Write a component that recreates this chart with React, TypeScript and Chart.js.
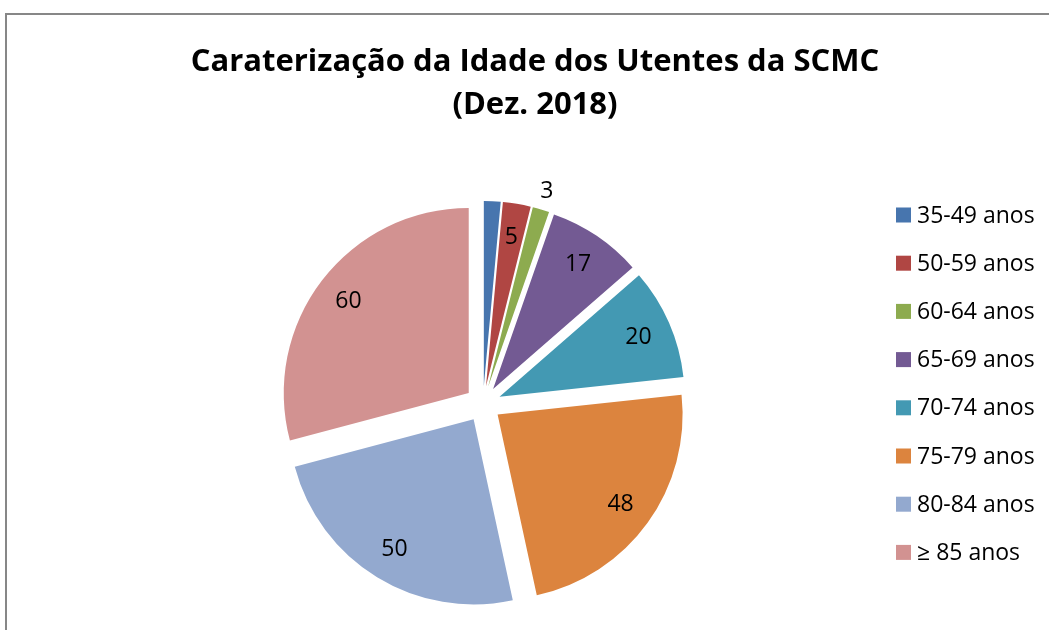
import React, { useEffect, useRef } from 'react';
import { Chart, registerables } from 'chart.js';

Chart.register(...registerables);

const TITLE_LINES = ['Caraterização da Idade dos Utentes da SCMC', '(Dez. 2018)'];
const AGE_GROUPS = [
  '35-49 anos',
  '50-59 anos',
  '60-64 anos',
  '65-69 anos',
  '70-74 anos',
  '75-79 anos',
  '80-84 anos',
  '≥ 85 anos',
];
const UTENTES = [3, 5, 3, 17, 20, 48, 50, 60];
const SLICE_COLORS = [
  '#4775AE',
  '#B04643',
  '#8DAB4F',
  '#735A93',
  '#4399B3',
  '#DC843E',
  '#93A9CF',
  '#D29291',
];
const UNLABELLED = ['35-49 anos'];

const FONT = '"Open Sans", "DejaVu Sans", sans-serif';
const EXPLODE = 18;

const decorPlugin = {
  id: 'excelDecor',
  afterDatasetsUpdate(chart: any) {
    const meta = chart.getDatasetMeta(0);
    meta.data.forEach((arc: any) => {
      const mid = (arc.startAngle + arc.endAngle) / 2;
      arc.x += Math.cos(mid) * EXPLODE;
      arc.y += Math.sin(mid) * EXPLODE;
    });
  },
  afterDraw(chart: any) {
    const ctx = chart.ctx as CanvasRenderingContext2D;
    ctx.save();
    ctx.fillStyle = '#000';
    ctx.textBaseline = 'middle';

    // title
    ctx.textAlign = 'center';
    ctx.font = `bold 31px ${FONT}`;
    TITLE_LINES.forEach((t, i) => ctx.fillText(t, 528, 47 + i * 43));

    // legend
    const labels = chart.data.labels as string[];
    const colors = chart.data.datasets[0].backgroundColor as string[];
    ctx.font = `23px ${FONT}`;
    ctx.textAlign = 'left';
    labels.forEach((lab, i) => {
      const cy = 200 + i * 48.2;
      ctx.fillStyle = colors[i];
      ctx.fillRect(889, cy - 7.5, 15, 15);
      ctx.fillStyle = '#000';
      ctx.fillText(lab, 910, cy + 1);
    });

    // data labels
    ctx.textAlign = 'center';
    const meta = chart.getDatasetMeta(0);
    const values = chart.data.datasets[0].data as number[];
    meta.data.forEach((arc: any, i: number) => {
      if (UNLABELLED.includes(labels[i])) return;
      const mid = (arc.startAngle + arc.endAngle) / 2;
      const span = arc.endAngle - arc.startAngle;
      const dist = span < 0.1 ? arc.outerRadius + 20 : arc.outerRadius * 0.82;
      ctx.fillText(String(values[i]), arc.x + Math.cos(mid) * dist, arc.y + Math.sin(mid) * dist + 1);
    });
    ctx.restore();
  },
};

export default function App() {
  const ref = useRef<HTMLCanvasElement | null>(null);

  useEffect(() => {
    if (!ref.current) return;
    const chart = new Chart(ref.current, {
      type: 'pie',
      data: {
        labels: AGE_GROUPS,
        datasets: [
          {
            data: UTENTES,
            backgroundColor: SLICE_COLORS,
            borderWidth: 0,
          },
        ],
      },
      options: {
        responsive: false,
        animation: false,
        radius: 185,
        layout: { padding: { top: 122, bottom: 29, left: 0, right: 106 } },
        plugins: {
          legend: { display: false },
          title: { display: false },
          tooltip: { enabled: false },
        },
        events: [],
      } as any,
      plugins: [decorPlugin],
    });
    return () => chart.destroy();
  }, []);

  return (
    <div
      style={{
        position: 'fixed',
        left: 0,
        top: 0,
        width: 1049,
        height: 630,
        overflow: 'hidden',
        background: '#fff',
      }}
    >
      <div
        style={{
          position: 'absolute',
          left: 5,
          top: 13,
          width: 1060,
          height: 700,
          borderLeft: '2px solid #878787',
          borderTop: '2px solid #878787',
          background: '#fff',
        }}
      >
        <canvas ref={ref} width={1058} height={685} style={{ display: 'block', width: 1058, height: 685 }} />
      </div>
    </div>
  );
}
